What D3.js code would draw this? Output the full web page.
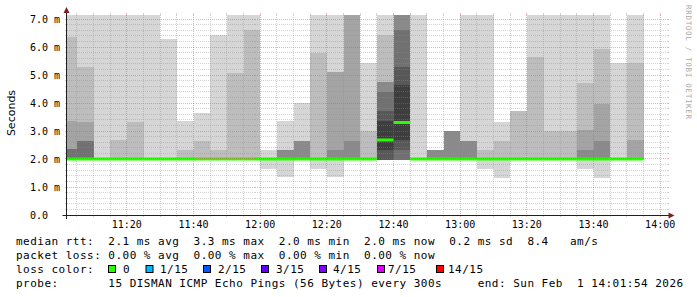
<!DOCTYPE html>
<meta charset="utf-8">
<style>
	body { margin: 0; background: #fff; }
	svg { display: block; }
	.mono { font-family: "DejaVu Sans Mono", monospace; }
	.legend { font-size: 11px; letter-spacing: 0.48px; fill: #000; }
</style>
<script src="https://cdnjs.cloudflare.com/ajax/libs/d3/7.8.5/d3.min.js"></script>
<svg width="697" height="297" class="chart"></svg>
<script>

	var startTime = "11:01:54", endTime = "14:01:54";

	// end of each 5 min step
	var stepEnds = ["11:05","11:10","11:15","11:20","11:25","11:30","11:35","11:40","11:45","11:50",
		"11:55","12:00","12:05","12:10","12:15","12:20","12:25","12:30","12:35","12:40",
		"12:45","12:50","12:55","13:00","13:05","13:10","13:15","13:20","13:25","13:30",
		"13:35","13:40","13:45","13:50","13:55"];

	// median rtt in ms
	var median = [2.0,2.0,2.0,2.0,2.0,2.0,2.0,2.0,2.0,2.0,
		2.0,2.0,2.0,2.0,2.0,2.0,2.0,2.0,2.0,2.68,
		3.30,2.0,2.0,2.0,2.0,2.0,2.0,2.0,2.0,2.0,
		2.0,2.0,2.0,2.0,2.0];

	// pings above the median, slowest first (missing ones = median)
	var upperPings = [
		[7.5,6.37,3.37,2.35,2.35], [7.5,5.27,3.33,2.64,2.64], [7.5], [7.5,2.68], [7.5,3.32],
		[7.5], [6.29], [3.37,2.32], [3.63,2.64], [6.43,2.32],
		[7.5,5.08], [7.5,6.61], [2.32], [3.37,2.32,2.32,2.32], [3.99,2.64,2.64,2.64],
		[7.5,5.80], [7.5,5.11,5.11,2.32], [7.5,7.5,7.5,2.64], [5.42,3.01], [7.5,6.43,4.75,4.75,4.40,3.71,3.37],
		[7.5,7.5,7.5,7.5,6.61,5.30,4.64], [7.5], [2.32,2.32,2.32,2.32], [3.0,3.0,3.0,3.0], [7.5,2.64,2.64,2.64],
		[7.5,2.32], [3.33,2.64], [3.71,3.71], [7.5,5.63], [7.5,3.0],
		[7.5,3.0], [7.5,4.73,3.04,2.32], [7.5,5.92,3.96,2.64], [5.42], [7.5,5.44,2.68]
	];

	// pings below the median, fastest first (missing ones = median)
	var lowerPings = [
		[], [], [], [], [], [], [], [], [], [],
		[], [], [1.64], [1.35], [], [1.66], [1.35], [], [], [1.96,1.96,1.96,1.96,1.96,1.96,2.32],
		[1.96,1.96,1.96,1.96,1.96,2.32,2.68], [], [], [], [], [1.63], [1.33], [], [], [],
		[], [1.64], [1.33], [], []
	];

	var yTickValues = [0, 1, 2, 3, 4, 5, 6, 7];
	var yTickLabels = ["0.0", "1.0 m", "2.0 m", "3.0 m", "4.0 m", "5.0 m", "6.0 m", "7.0 m"];

	var lossLabels = ["0", "1/15", "2/15", "3/15", "4/15", "7/15", "14/15"];
	var lossColors = ["#26ff00", "#00b8ff", "#0059ff", "#5e00ff", "#7e00ff", "#dd00ff", "#ff0000"];

	var legendLines = [
		"median rtt:  2.1 ms avg  3.3 ms max  2.0 ms min  2.0 ms now  0.2 ms sd  8.4   am/s",
		"packet loss: 0.00 % avg  0.00 % max  0.00 % min  0.00 % now",
		"loss color:",
		"probe:       15 DISMAN ICMP Echo Pings (56 Bytes) every 300s     end: Sun Feb  1 14:01:54 2026"
	];

	var svg = d3.select(".chart");
	var parseHM = d3.timeParse("%H:%M"), parseHMS = d3.timeParse("%H:%M:%S");
	var t0 = parseHMS(startTime), t1 = parseHMS(endTime);

	var cLeft = 66.5, cRight = 666.5, cTop = 15, cBottom = 215;
	var x = d3.scaleTime().domain([t0, t1]).range([cLeft, cRight]);
	var y = d3.scaleLinear().domain([0, 200 / 28]).range([cBottom, cTop]);

	var steps = stepEnds.map(function(s, i) {
		var end = parseHM(s), start = d3.timeMinute.offset(end, -5);
		if (start < t0) start = t0;
		var p = [];
		for (var k = 0; k < 7; k++) p.push(lowerPings[i][k] !== undefined ? lowerPings[i][k] : median[i]);
		p.push(median[i]);
		for (var k = 6; k >= 0; k--) p.push(upperPings[i][k] !== undefined ? upperPings[i][k] : median[i]);
		return {x0: x(start), x1: x(end), med: median[i], pings: p};
	});

	function smokeGrey(k) {
		var c = Math.floor(190 / 7.5 * (7.5 - k)) + 50;
		return d3.rgb(c, c, c).toString();
	}

	svg.append("defs").append("clipPath").attr("id", "canvas")
		.append("rect").attr("x", cLeft).attr("y", cTop)
		.attr("width", cRight - cLeft).attr("height", cBottom - cTop);

	var plot = svg.append("g").attr("clip-path", "url(#canvas)");

	// smoke: band k spans ping k .. ping 16-k
	d3.range(1, 8).forEach(function(k) {
		plot.append("g")
			.selectAll("rect")
			.data(steps)
			.enter().append("rect")
				.attr("x", function(d) { return d.x0; })
				.attr("width", function(d) { return d.x1 - d.x0; })
				.attr("y", function(d) { return y(d.pings[15 - k]); })
				.attr("height", function(d) { return y(d.pings[k - 1]) - y(d.pings[15 - k]); })
				.attr("fill", smokeGrey(k))
				.attr("shape-rendering", "crispEdges");
	});

	// median
	plot.append("g")
		.selectAll("line")
		.data(steps)
		.enter().append("line")
			.attr("x1", function(d) { return d.x0; })
			.attr("x2", function(d) { return d.x1; })
			.attr("y1", function(d) { return y(d.med); })
			.attr("y2", function(d) { return y(d.med); })
			.attr("stroke", lossColors[0])
			.attr("stroke-width", 3);

	// grid
	var grid = svg.append("g").attr("stroke-dasharray", "1,1").attr("shape-rendering", "crispEdges");
	var ticks = svg.append("g").attr("shape-rendering", "crispEdges");
	var minorCol = "rgba(143,143,143,0.4)", majorCol = "rgba(222,79,79,0.45)";

	d3.range(1, 36).forEach(function(i) {
		var yy = Math.floor(y(i * 0.2)) + 0.5, col = i % 5 === 0 ? majorCol : minorCol;
		grid.append("line").attr("x1", cLeft).attr("x2", cRight).attr("y1", yy).attr("y2", yy).attr("stroke", col);
		ticks.append("line").attr("x1", cLeft - 2).attr("x2", cLeft).attr("y1", yy).attr("y2", yy).attr("stroke", col);
		ticks.append("line").attr("x1", cRight).attr("x2", cRight + 2).attr("y1", yy).attr("y2", yy).attr("stroke", col);
	});

	d3.timeMinute.every(5).range(t0, t1).forEach(function(t) {
		var xx = Math.floor(x(t)) + 0.5, col = t.getMinutes() % 20 === 0 ? majorCol : minorCol;
		grid.append("line").attr("x1", xx).attr("x2", xx).attr("y1", cTop).attr("y2", cBottom).attr("stroke", col);
		ticks.append("line").attr("x1", xx).attr("x2", xx).attr("y1", cTop - 2).attr("y2", cTop).attr("stroke", col);
		ticks.append("line").attr("x1", xx).attr("x2", xx).attr("y1", cBottom).attr("y2", cBottom + 2).attr("stroke", col);
	});

	// axes
	svg.append("line").attr("x1", cLeft - 4).attr("x2", cRight + 4).attr("y1", cBottom + 0.5).attr("y2", cBottom + 0.5)
		.attr("stroke", "#1f1f1f");
	svg.append("line").attr("x1", cLeft).attr("x2", cLeft).attr("y1", cBottom + 4).attr("y2", cTop - 4)
		.attr("stroke", "#1f1f1f");
	svg.append("path").attr("d", "M" + cLeft + "," + (cTop - 8) + "L" + (cLeft - 3) + "," + (cTop - 2) + "L" + (cLeft + 3) + "," + (cTop - 2) + "Z")
		.attr("fill", "#801f1f");
	svg.append("path").attr("d", "M" + (cRight + 8) + "," + (cBottom + 0.5) + "L" + (cRight + 2) + "," + (cBottom - 2.5) + "L" + (cRight + 2) + "," + (cBottom + 3.5) + "Z")
		.attr("fill", "#801f1f");

	// y labels
	var yl = svg.append("g").attr("class", "mono").attr("font-size", 10);
	yTickValues.forEach(function(v, i) {
		var parts = yTickLabels[i].split(" ");
		yl.append("text").attr("x", 48).attr("y", y(v) + 3.7).attr("text-anchor", "end").text(parts[0]);
		if (parts[1]) yl.append("text").attr("x", 54).attr("y", y(v) + 3.7).text(parts[1]);
	});

	// x labels
	var fmt = d3.timeFormat("%H:%M");
	svg.append("g").attr("class", "mono").attr("font-size", 10)
		.selectAll("text")
		.data(d3.timeMinute.every(20).range(t0, t1))
		.enter().append("text")
			.attr("x", function(d) { return x(d); })
			.attr("y", 227.7)
			.attr("text-anchor", "middle")
			.text(fmt);

	svg.append("text")
		.attr("transform", "translate(15,113) rotate(-90)")
		.attr("text-anchor", "middle")
		.attr("font-family", "DejaVu Sans")
		.attr("font-size", 11)
		.text("Seconds");

	svg.append("text")
		.attr("class", "mono")
		.attr("transform", "translate(686,5) rotate(90)")
		.attr("font-size", 7.5)
		.attr("letter-spacing", 0.7)
		.attr("fill", "#a8a8a8")
		.text("RRDTOOL / TOBI OETIKER");

	// legend
	var baselines = [244.7, 258.7, 273, 287];
	svg.append("g").attr("class", "mono legend")
		.selectAll("text")
		.data(legendLines)
		.enter().append("text")
			.attr("xml:space", "preserve")
			.style("white-space", "pre")
			.attr("x", 16)
			.attr("y", function(d, i) { return baselines[i]; })
			.text(function(d) { return d; });

	var boxX = [108.5, 146, 203.5, 261.5, 319.5, 377.5, 436.5];
	var labelX = [123, 160, 218, 276, 333, 388, 448];
	var lg = svg.append("g").attr("class", "mono legend");
	lossLabels.forEach(function(l, i) {
		lg.append("rect").attr("x", boxX[i]).attr("y", 265.5).attr("width", 7).attr("height", 7)
			.attr("fill", lossColors[i]).attr("stroke", "#000");
		lg.append("text").attr("x", labelX[i]).attr("y", baselines[2]).text(l);
	});

</script>
